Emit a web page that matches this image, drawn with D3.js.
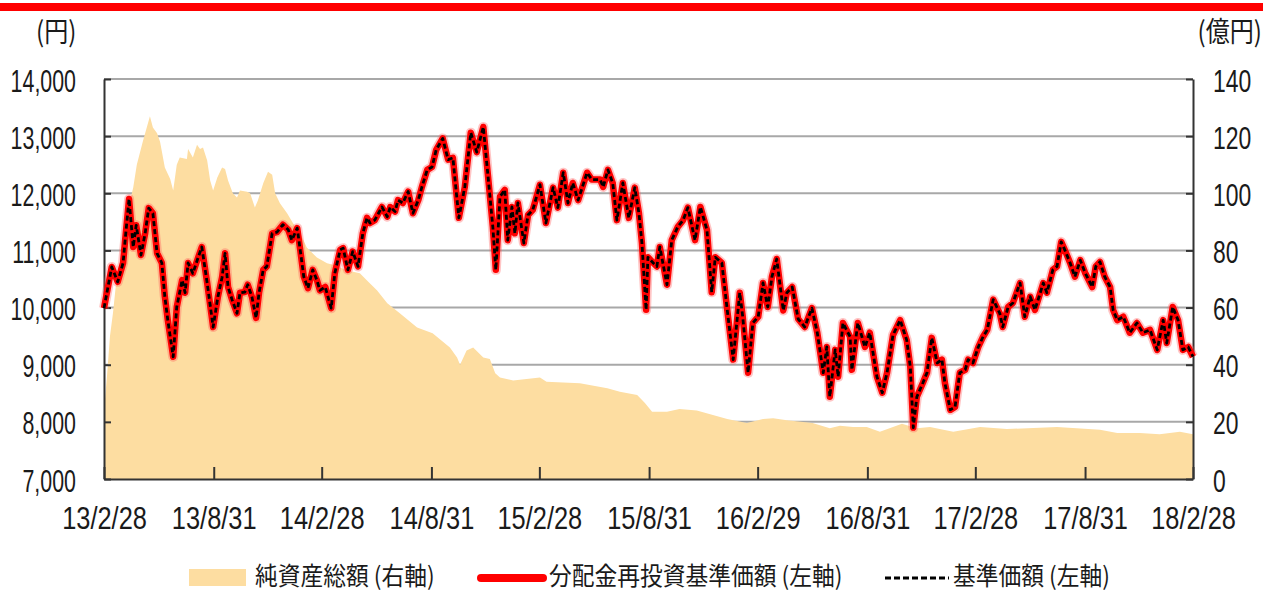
<!DOCTYPE html>
<html><head><meta charset="utf-8">
<script src="https://cdn.jsdelivr.net/npm/d3@7"></script>
<style>html,body{margin:0;padding:0;background:#fff;overflow:hidden}</style>
</head><body><svg id="c" width="1263" height="592"></svg>
<script>
// ---- data ----
const navDates = [
"2013-02-28","2013-03-13","2013-03-23","2013-04-01","2013-04-04","2013-04-11","2013-04-18","2013-04-23","2013-05-01","2013-05-08",
"2013-05-14","2013-05-21","2013-05-28","2013-06-05","2013-06-10","2013-06-15","2013-06-24","2013-06-30","2013-07-09","2013-07-14",
"2013-07-19","2013-07-27","2013-08-05","2013-08-11","2013-08-20","2013-08-30","2013-09-07","2013-09-14","2013-09-19","2013-09-24",
"2013-10-01","2013-10-09","2013-10-14","2013-10-22","2013-10-27","2013-11-03","2013-11-10","2013-11-15","2013-11-22","2013-11-28",
"2013-12-07","2013-12-15","2013-12-25","2014-01-03","2014-01-09","2014-01-18","2014-01-23","2014-01-29","2014-02-05","2014-02-13",
"2014-02-20","2014-02-25","2014-03-06","2014-03-16","2014-03-22","2014-03-31","2014-04-05","2014-04-13","2014-04-21","2014-04-30",
"2014-05-08","2014-05-15","2014-05-20","2014-05-28","2014-06-09","2014-06-18","2014-06-23","2014-07-01","2014-07-06","2014-07-14",
"2014-07-23","2014-07-31","2014-08-09","2014-08-15","2014-08-24","2014-09-01","2014-09-08","2014-09-19","2014-09-28","2014-10-06",
"2014-10-16","2014-10-26","2014-11-05","2014-11-15","2014-11-26","2014-12-04","2014-12-12","2014-12-17","2014-12-24","2015-01-01",
"2015-01-06","2015-01-13","2015-01-18","2015-01-23","2015-02-02","2015-02-09","2015-02-17","2015-03-01","2015-03-11","2015-03-23",
"2015-03-31","2015-04-09","2015-04-17","2015-04-25","2015-05-04","2015-05-19","2015-05-27","2015-06-10","2015-06-15","2015-06-23",
"2015-07-01","2015-07-08","2015-07-18","2015-07-28","2015-08-07","2015-08-14","2015-08-19","2015-08-26","2015-08-29","2015-09-07",
"2015-09-13","2015-09-18","2015-09-30","2015-10-08","2015-10-18","2015-10-27","2015-11-04","2015-11-16","2015-11-25","2015-12-06",
"2015-12-14","2015-12-20","2015-12-31","2016-01-09","2016-01-19","2016-01-30","2016-02-04","2016-02-13","2016-02-21","2016-03-01",
"2016-03-09","2016-03-17","2016-03-24","2016-04-01","2016-04-12","2016-04-18","2016-04-27","2016-05-07","2016-05-18","2016-05-30",
"2016-06-08","2016-06-18","2016-06-24","2016-06-29","2016-07-08","2016-07-13","2016-07-21","2016-08-02","2016-08-05","2016-08-15",
"2016-08-27","2016-09-04","2016-09-16","2016-09-25","2016-10-03","2016-10-13","2016-10-25","2016-11-05","2016-11-11","2016-11-16",
"2016-11-22","2016-12-02","2016-12-09","2016-12-17","2016-12-26","2017-01-03","2017-01-08","2017-01-17","2017-01-25","2017-02-02",
"2017-02-11","2017-02-16","2017-02-24","2017-03-05","2017-03-13","2017-03-20","2017-03-30","2017-04-10","2017-04-15","2017-04-24",
"2017-05-02","2017-05-14","2017-05-22","2017-05-31","2017-06-08","2017-06-22","2017-06-28","2017-07-08","2017-07-15","2017-07-22",
"2017-07-28","2017-08-06","2017-08-14","2017-08-23","2017-08-31","2017-09-12","2017-09-18","2017-09-25","2017-10-03","2017-10-12",
"2017-10-17","2017-10-24","2017-11-03","2017-11-14","2017-11-26","2017-12-06","2017-12-18","2017-12-30","2018-01-09","2018-01-15",
"2018-01-25","2018-02-03","2018-02-11","2018-02-20","2018-02-28"];
const navValues = [
9990,10710,10450,10780,11130,11900,11060,11440,10920,11300,
11740,11650,10950,10780,10190,9780,9140,10010,10480,10260,
10780,10600,10880,11060,10430,9660,10190,10530,10950,10360,
10130,9900,10260,10270,10400,10190,9820,10260,10660,10720,
11300,11320,11450,11360,11180,11390,11010,10540,10340,10660,
10480,10300,10360,9990,10600,11010,11040,10660,10980,10720,
11300,11570,11480,11530,11760,11590,11760,11680,11880,11830,
12030,11650,11880,12110,12410,12460,12760,12960,12590,12620,
11570,12110,13060,12720,13160,12290,11410,10660,11940,12060,
11180,11760,11300,11830,11130,11620,11710,12150,11480,12100,
11750,12360,11830,12180,11880,12360,12240,12240,12110,12410,
12180,11530,12180,11570,12100,11650,11130,9960,10880,10780,
10720,11060,10400,11180,11410,11530,11750,11180,11760,11360,
10270,10880,10780,9960,9090,10260,9840,8860,9730,9840,
10430,10010,10540,10850,9950,10260,10360,9800,9660,9990,
9560,8860,9310,8440,9260,8790,9730,9490,8910,9730,
9310,9560,8790,8510,8860,9520,9780,9430,8960,7900,
8440,8680,8860,9470,9030,9090,8680,8210,8260,8860,
8910,9090,9030,9310,9490,9610,10140,9900,9660,10010,
10080,10430,9840,10190,9960,10430,10260,10660,10720,11150,
11010,10780,10540,10830,10610,10360,10720,10800,10540,10360,
9960,9780,9840,9560,9730,9560,9610,9260,9780,9380,
10010,9780,9260,9310,9140];
const aumDates = [
"2013-02-28","2013-03-05","2013-03-10","2013-03-15","2013-03-22","2013-03-27","2013-04-09","2013-04-18","2013-04-24","2013-05-04",
"2013-05-16","2013-05-21","2013-05-28","2013-06-02","2013-06-10","2013-06-19","2013-06-24","2013-06-30","2013-07-05","2013-07-17",
"2013-07-19","2013-07-27","2013-08-03","2013-08-08","2013-08-13","2013-08-20","2013-08-25","2013-08-30","2013-09-06","2013-09-14",
"2013-09-19","2013-09-24","2013-10-02","2013-10-09","2013-10-14","2013-10-26","2013-10-31","2013-11-08","2013-11-13","2013-11-22",
"2013-11-30","2013-12-07","2013-12-12","2013-12-20","2014-01-01","2014-01-11","2014-01-23","2014-02-03","2014-02-20","2014-03-09",
"2014-03-19","2014-04-12","2014-05-03","2014-05-15","2014-06-01","2014-06-18","2014-07-09","2014-08-07","2014-09-02","2014-10-01",
"2014-10-13","2014-10-18","2014-10-29","2014-11-09","2014-11-26","2014-12-07","2014-12-16","2014-12-24","2015-01-15","2015-03-01",
"2015-03-12","2015-05-07","2015-06-22","2015-07-13","2015-08-11","2015-08-24","2015-09-05","2015-09-30","2015-10-21","2015-11-19",
"2015-12-16","2016-01-09","2016-02-11","2016-03-09","2016-03-26","2016-04-18","2016-05-31","2016-06-29","2016-07-16","2016-08-07",
"2016-08-30","2016-09-21","2016-10-28","2016-11-22","2016-12-14","2017-01-22","2017-03-08","2017-04-22","2017-07-15","2017-09-25",
"2017-10-24","2017-12-01","2018-01-03","2018-02-06","2018-02-28"];
const aumValues = [
24,36,50,58,72,76,94,102,110,118,
127,123,121,118,109,105,101,110,112.5,112,
115.5,112.5,117,115.5,116,111.5,104.5,101,105.5,109,
108.5,104.5,100,98.5,101,100.5,100,95,97.5,103.5,
107.5,106.5,100,96.5,93,89.5,86,81,77.5,75.5,
75,73,72,69.5,66,61.5,58,53,51,46,
42.5,40,45,46,42.5,42,37,35.5,34.5,35.5,
34,33.5,31.8,30.5,29.4,26.6,23.5,23.5,24.5,24,
22.4,21,19.6,21,21.3,20.6,19.6,17.8,18.6,18.2,
18.2,16.5,19.3,17.8,18.2,16.5,18.2,17.5,18.2,17.2,
16.1,16.1,15.7,16.5,15.7];
const xTickDates = ["2013-02-28","2013-08-31","2014-02-28","2014-08-31","2015-02-28","2015-08-31","2016-02-29","2016-08-31","2017-02-28","2017-08-31","2018-02-28"];
const xTickLabels = ["13/2/28","13/8/31","14/2/28","14/8/31","15/2/28","15/8/31","16/2/29","16/8/31","17/2/28","17/8/31","18/2/28"];
const leftTicks = [7000,8000,9000,10000,11000,12000,13000,14000];
const rightTicks = [0,20,40,60,80,100,120,140];
const leftUnit = "(円)";
const rightUnit = "(億円)";
const legendLabels = ["純資産総額 (右軸)","分配金再投資基準価額 (左軸)","基準価額 (左軸)"];

// ---- drawing ----
const parse = d3.utcParse("%Y-%m-%d");
const nav = navDates.map((d,i)=>({date:parse(d), v:navValues[i]}));
const aum = aumDates.map((d,i)=>({date:parse(d), v:aumValues[i]}));
const L=104, R=1193, T=79, B=479;
const svg = d3.select("#c");
const x = d3.scaleUtc().domain([parse(xTickDates[0]), parse(xTickDates[xTickDates.length-1])]).range([L,R]);
const yL = d3.scaleLinear().domain([7000,14000]).range([B,T]);
const yR = d3.scaleLinear().domain([0,140]).range([B,T]);
const NUMF = "'Liberation Sans', Arial, sans-serif";
const CJKF = "'Noto Sans CJK JP', 'Noto Sans', sans-serif";
const areaCol = "#fddda1";

// top red band
svg.append("rect").attr("x",0).attr("y",3).attr("width",1263).attr("height",8).attr("fill","#ff0000");

// gridlines
svg.append("g").selectAll("line").data(leftTicks.slice(1)).join("line")
  .attr("x1",L).attr("x2",R).attr("y1",d=>yL(d)).attr("y2",d=>yL(d))
  .attr("stroke","#a8a8a8").attr("stroke-width",2);

// AUM area
svg.append("path").datum(aum)
  .attr("d", d3.area().x(d=>x(d.date)).y0(B).y1(d=>yR(d.v)))
  .attr("fill", areaCol);

// axes
function styleAxis(g){
  g.selectAll(".domain").attr("stroke","#333").attr("stroke-width",2);
  g.selectAll(".tick line").attr("stroke","#333").attr("stroke-width",2);
  g.selectAll("text").attr("fill","#1a1a1a").style("font-family",NUMF).style("font-size","31px");
}
const gL = svg.append("g").attr("transform",`translate(${L},0)`)
  .call(d3.axisLeft(yL).tickValues(leftTicks).tickFormat(d3.format(",")).tickSize(-7).tickSizeOuter(0));
styleAxis(gL);
gL.selectAll("text").attr("x",-28/0.69).attr("dy","0.39em").attr("transform","scale(0.69,1)");

const gR = svg.append("g").attr("transform",`translate(${R},0)`)
  .call(d3.axisRight(yR).tickValues(rightTicks).tickSize(-7).tickSizeOuter(0));
styleAxis(gR);
gR.selectAll("text").attr("x",20/0.74).attr("dy","0.39em").attr("transform","scale(0.74,1)");

const gB = svg.append("g").attr("transform",`translate(0,${B})`)
  .call(d3.axisBottom(x).tickValues(xTickDates.map(parse)).tickFormat((d,i)=>xTickLabels[i]).tickSize(-12).tickSizeOuter(0));
styleAxis(gB);
gB.selectAll("text").attr("x",0).attr("y",50).attr("dy",0).attr("transform","scale(0.82,1)");

// lines
const line = d3.line().x(d=>x(d.date)).y(d=>yL(d.v));
svg.append("path").datum(nav).attr("d",line).attr("fill","none")
  .attr("stroke","#ff5a5a").attr("stroke-opacity",0.35).attr("stroke-width",10).attr("stroke-linejoin","round");
svg.append("path").datum(nav).attr("d",line).attr("fill","none")
  .attr("stroke","#ff0000").attr("stroke-width",6.5).attr("stroke-linejoin","round");
svg.append("path").datum(nav).attr("d",line).attr("fill","none")
  .attr("stroke","#000").attr("stroke-width",2.8).attr("stroke-dasharray","5,3").attr("stroke-linejoin","round");

// unit labels
svg.append("text").attr("x",36).attr("y",42).attr("transform","translate(36,0) scale(0.86,1) translate(-36,0)")
  .style("font-family",CJKF).style("font-size","28px").attr("fill","#1a1a1a").text(leftUnit);
svg.append("text").attr("x",1262).attr("y",42).attr("text-anchor","end").attr("transform","translate(1262,0) scale(0.86,1) translate(-1262,0)")
  .style("font-family",CJKF).style("font-size","28px").attr("fill","#1a1a1a").text(rightUnit);

// legend
const lg = svg.append("g");
const ly = 578;
lg.append("rect").attr("x",189).attr("y",569).attr("width",57).attr("height",17).attr("fill",areaCol);
lg.append("line").attr("x1",481).attr("x2",543).attr("y1",ly).attr("y2",ly).attr("stroke","#ff0000").attr("stroke-width",8).attr("stroke-linecap","round");
lg.append("line").attr("x1",885).attr("x2",949).attr("y1",ly).attr("y2",ly).attr("stroke","#000").attr("stroke-width",3).attr("stroke-dasharray","6,3");
const lx = [255,549,953];
legendLabels.forEach((t,i)=>{
  lg.append("text").attr("x",lx[i]).attr("y",585)
    .attr("transform",`translate(${lx[i]},0) scale(0.91,1) translate(${-lx[i]},0)`)
    .style("font-family",CJKF).style("font-size","25px").attr("fill","#1a1a1a").text(t);
});
</script></body></html>
